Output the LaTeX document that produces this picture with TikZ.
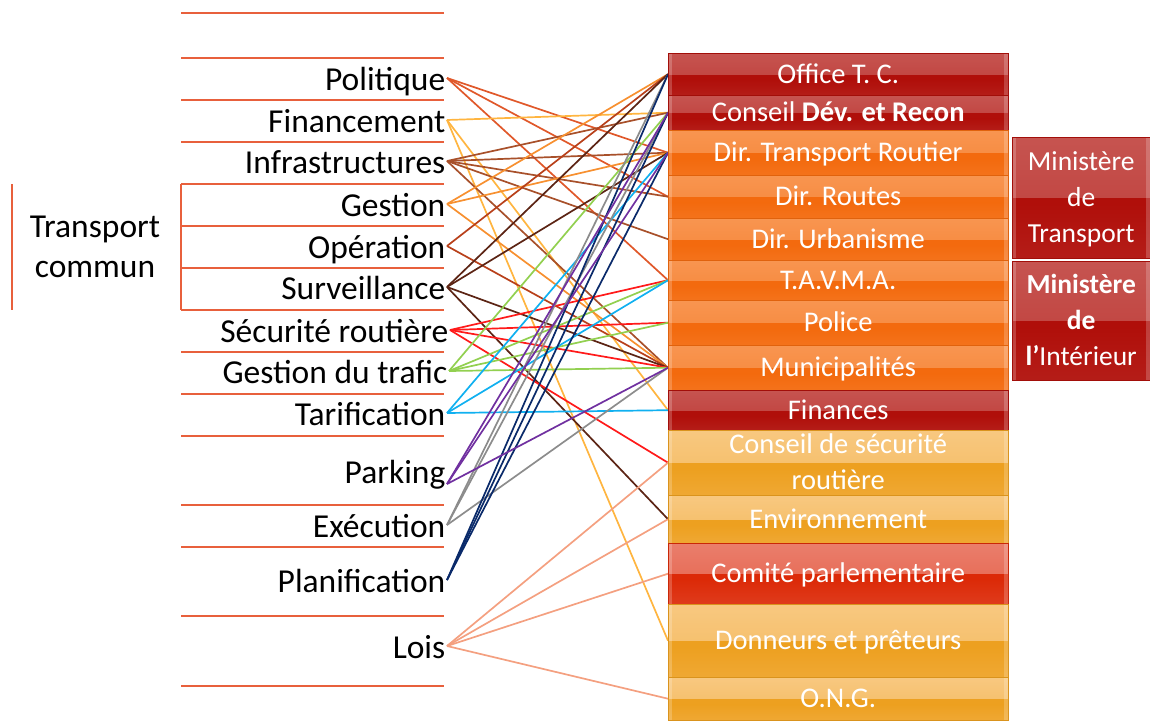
\documentclass[tikz,border=0pt]{standalone}
\usepackage{fontspec}
\setmainfont{Carlito}
\definecolor{rulec}{HTML}{E8603C}
\definecolor{cPol}{HTML}{E0582A}
\definecolor{cFin}{HTML}{FFB540}
\definecolor{cInf}{HTML}{A8502A}
\definecolor{cGes}{HTML}{F79030}
\definecolor{cOpe}{HTML}{B8401A}
\definecolor{cSur}{HTML}{5C2414}
\definecolor{cSec}{HTML}{FF1A1A}
\definecolor{cGdt}{HTML}{92D050}
\definecolor{cTar}{HTML}{10B0F0}
\definecolor{cPar}{HTML}{7030A0}
\definecolor{cExe}{HTML}{8C8C8C}
\definecolor{cPla}{HTML}{0A2A6A}
\definecolor{cLoi}{HTML}{F4A080}
\definecolor{bRed}{HTML}{B00F0A}
\definecolor{tRed}{HTML}{C65450}
\definecolor{bOra}{HTML}{F36A0E}
\definecolor{tOra}{HTML}{F89550}
\definecolor{bCom}{HTML}{DC2A08}
\definecolor{tCom}{HTML}{EA7E6C}
\definecolor{bYel}{HTML}{EDA020}
\definecolor{tYel}{HTML}{F8C880}
\pgfdeclarelayer{bg}
\pgfsetlayers{bg,main}
\tikzset{
  rule/.style={draw=rulec, line width=1.6pt},
  lab/.style={anchor=east, text=black, font=\fontsize{33.5}{39}\selectfont,
    text height=24pt, text depth=0pt, inner ysep=0pt, inner xsep=1.5pt},
  conn/.style={line width=1.7pt},
  gbox/.style 2 args={draw=#1!92!black, line width=0.4pt, fill=#1,
    minimum width=340pt, inner sep=0pt, text=white, anchor=north west,
    font=\fontsize{28.5}{36}\selectfont, align=center,
    text height=18pt, text depth=0pt,
    path picture={
      \shade[top color=#2, bottom color=#2!65!#1]
        (path picture bounding box.north west) rectangle (path picture bounding box.east);
      \shade[top color=#1, bottom color=#1!80!#2]
        ([yshift=-6pt]path picture bounding box.west) rectangle (path picture bounding box.south east);
      \fill[white, opacity=0.2] (path picture bounding box.north west) rectangle ([xshift=4pt]path picture bounding box.south west);
      \fill[white, opacity=0.2] (path picture bounding box.north east) rectangle ([xshift=-4pt]path picture bounding box.south east);
    }},
  mbox/.style 2 args={gbox={#1}{#2}, minimum width=138pt,
    font=\fontsize{27.5}{36}\selectfont, text height=89.7pt}
}
\begin{document}
\begin{tikzpicture}[x=1pt,y=-1pt]
\useasboundingbox (0,0) rectangle (1150,720);
% left rules
\foreach \yy in {13,58,100,142,184,226,268,310,352,394,436,505,547,616,686}
  \draw[rule] (181,\yy) -- (444,\yy);
\draw[rule] (181,184) -- (181,310);
\draw[rule] (12,184) -- (12,310);
\node[text=black, font=\fontsize{33.5}{40}\selectfont, align=center] (tc) at (95,247) {Transport\\commun};
% left labels
\node[lab] (pol) at (447,78) {Politique};
\node[lab] (fin) at (447,120) {Financement};
\node[lab] (inf) at (447,161) {Infrastructures};
\node[lab] (ges) at (447,204) {Gestion};
\node[lab] (ope) at (447,246) {Opération};
\node[lab] (sur) at (447,287) {Surveillance};
\node[lab] (sec) at (450,330) {Sécurité routière};
\node[lab] (gdt) at (449,371) {Gestion du trafic};
\node[lab] (tar) at (447,413) {Tarification};
\node[lab, anchor=south east] (par) at (447,484) {Parking};
\node[lab] (exe) at (447,525) {Exécution};
\node[lab] (pla) at (447,580) {Planification};
\node[lab] (loi) at (447,646) {Lois};
% right boxes
\node[gbox={bRed}{tRed}, minimum height=42pt] (off) at (668,53) {Office T. C.};
\node[gbox={bRed}{tRed}, minimum height=35pt] (cdr) at (668,95) {Conseil \textbf{Dév. et Recon}};
\node[gbox={bOra}{tOra}, minimum height=45pt] (dtr) at (668,130) {Dir. Transport Routier};
\node[gbox={bOra}{tOra}, minimum height=43pt] (drt) at (668,175) {Dir. Routes};
\node[gbox={bOra}{tOra}, minimum height=42pt] (dru) at (668,218) {Dir. Urbanisme};
\node[gbox={bOra}{tOra}, minimum height=40pt] (tav) at (668,260) {T.A.V.M.A.};
\node[gbox={bOra}{tOra}, minimum height=45pt] (pol2) at (668,300) {Police};
\node[gbox={bOra}{tOra}, minimum height=45pt] (mun) at (668,345) {Municipalités};
\node[gbox={bRed}{tRed}, minimum height=40pt] (fina) at (668,390) {Finances};
\node[gbox={bYel}{tYel}, minimum height=65pt, text height=54pt] (csr) at (668,430) {Conseil de sécurité\\routière};
\node[gbox={bYel}{tYel}, minimum height=48pt] (env) at (668,495) {Environnement};
\node[gbox={bCom}{tCom}, minimum height=61pt] (com) at (668,543) {Comité parlementaire};
\node[gbox={bYel}{tYel}, minimum height=73pt] (don) at (668,604) {Donneurs et prêteurs};
\node[gbox={bYel}{tYel}, minimum height=43pt] (ong) at (668,677) {O.N.G.};
\node[mbox={bRed}{tRed}, minimum height=121pt] (mtr) at (1012,137) {Ministère\\de\\Transport};
\node[mbox={bRed}{tRed}, minimum height=119pt] (min) at (1012,261) {\textbf{Ministère}\\\textbf{de}\\\textbf{l’}Intérieur};
% connectors (behind the boxes)
\begin{pgfonlayer}{bg}
\foreach \a/\b/\c in {
  pol/dtr/cPol, pol/drt/cPol, pol/tav/cPol,
  fin/cdr/cFin, fin/fina/cFin, fin/don/cFin,
  inf/cdr/cInf, inf/dtr/cInf, inf/drt/cInf, inf/dru/cInf, inf/mun/cInf,
  ges/off/cGes, ges/dtr/cGes, ges/mun/cGes,
  ope/off/cOpe, ope/mun/cOpe,
  sur/off/cSur, sur/dtr/cSur, sur/mun/cSur, sur/env/cSur,
  sec/tav/cSec, sec/pol2/cSec, sec/mun/cSec, sec/csr/cSec,
  gdt/cdr/cGdt, gdt/tav/cGdt, gdt/pol2/cGdt, gdt/mun/cGdt,
  tar/dtr/cTar, tar/tav/cTar, tar/fina/cTar,
  exe/off/cExe, exe/cdr/cExe, exe/mun/cExe,
  pla/off/cPla, pla/cdr/cPla, pla/dtr/cPla,
  loi/csr/cLoi, loi/env/cLoi, loi/com/cLoi, loi/ong/cLoi}
  \draw[conn, draw=\c] (\a.east) -- (\b.west);
\foreach \b in {cdr,dtr,mun}
  \draw[conn, draw=cPar] (par.south east) -- (\b.west);
\end{pgfonlayer}
\end{tikzpicture}
\end{document}
